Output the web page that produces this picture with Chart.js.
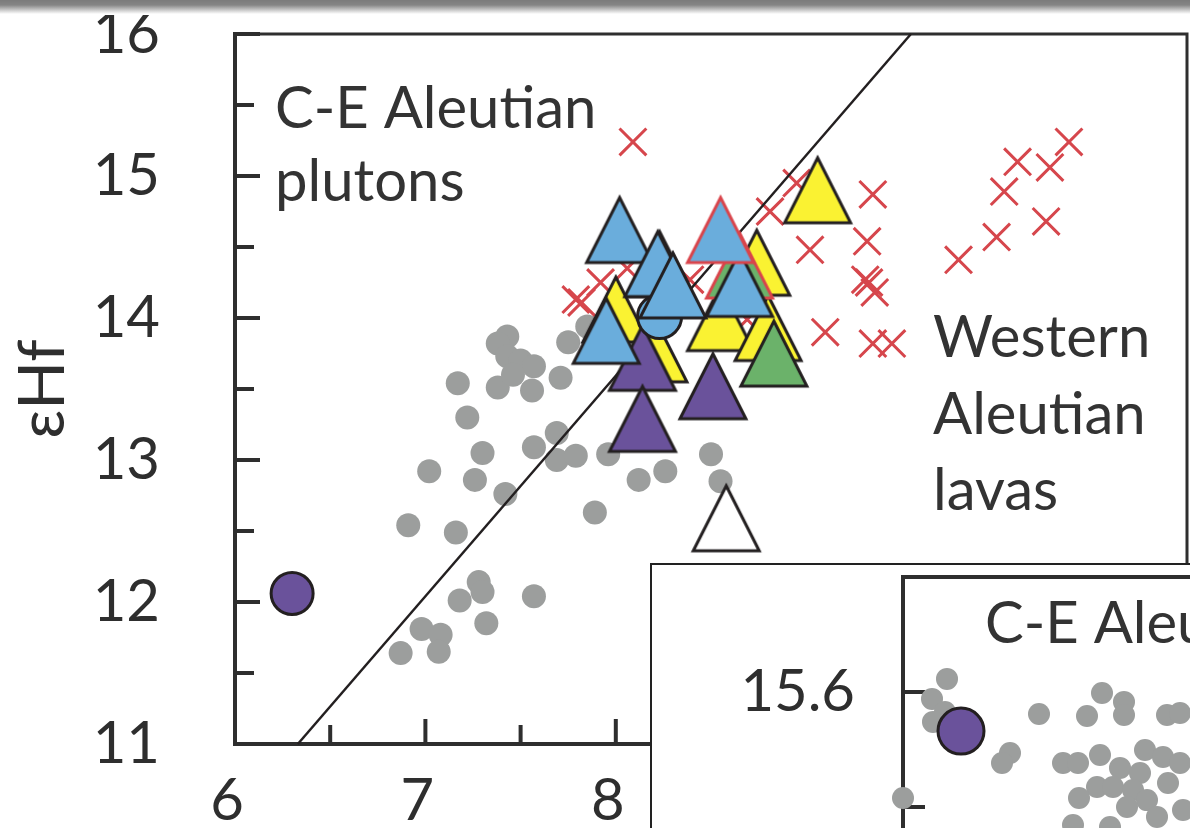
<!DOCTYPE html>
<html>
<head>
<meta charset="utf-8">
<script src="https://cdn.jsdelivr.net/npm/chart.js@4.4.1/dist/chart.umd.min.js"></script>
<style>
  html, body { margin: 0; padding: 0; background: #fff; overflow: hidden; }
  #wrap { position: relative; width: 1190px; height: 828px; overflow: hidden; }
  #topbar { position: absolute; left: 0; top: 0; width: 1190px; height: 15px; z-index: 3;
            background: linear-gradient(#7b7b7b 0px, #858585 5px, #ffffff 14px); }
  #main { position: absolute; left: 0; top: 0; }
  #insetBox { position: absolute; left: 650px; top: 563px; width: 700px; height: 480px;
              background: #fff; border: 2px solid #222; z-index: 2; }
  #inset { position: absolute; left: 0; top: 0; }
</style>
</head>
<body>
<div id="wrap">
  <div id="topbar"></div>
  <canvas id="main" width="1190" height="828"></canvas>
  <div id="insetBox"><canvas id="inset" width="700" height="480"></canvas></div>
</div>
<script>
// main panel: eNd (x) vs eHf (y)
const grayNd = [7.43,7.38,7.43,7.50,7.57,7.38,7.46,7.56,7.75,7.85,7.17,7.71,7.22,7.69,7.57,7.30,7.69,7.79,7.96,7.02,7.26,7.42,8.12,8.26,8.50,8.55,7.89,6.91,7.16,7.28,7.30,7.18,7.57,7.32,6.98,7.08,7.07,6.87];
const grayHf = [13.87,13.82,13.73,13.70,13.66,13.51,13.60,13.49,13.83,13.94,13.54,13.58,13.30,13.19,13.09,13.05,13.00,13.03,13.04,12.92,12.86,12.76,12.86,12.92,13.04,12.85,12.63,12.54,12.49,12.14,12.07,12.01,12.04,11.85,11.81,11.77,11.65,11.64];

const westNd = [8.09,7.79,7.82,7.92,8.06,8.39,8.69,8.81,8.95,9.02,9.10,9.35,9.32,9.31,9.33,9.36,9.35,9.45,9.80,10.00,10.04,10.11,10.28,10.38,10.26];
const westHf = [15.24,14.13,14.11,14.25,14.35,14.27,13.99,14.75,14.95,14.48,13.90,14.87,14.54,14.27,14.25,14.18,13.82,13.82,14.41,14.57,14.89,15.10,15.06,15.24,14.68];

const blueNd = [8.02,8.22,8.30,8.65,7.95];
const blueHf = [14.63,14.39,14.24,14.25,13.92];
const blueRedNd = [8.55];
const blueRedHf = [14.63];
const greenRedNd = [8.65];
const greenRedHf = [14.38];
const blueDotNd = [8.23];
const blueDotHf = [14.01];
const purpleNd = [8.14,8.14,8.51];
const purpleHf = [13.73,13.30,13.53];
const greenNd = [8.83];
const greenHf = [13.76];
const yellowNd = [9.06,8.74,8.23,8.00,8.55,8.80,8.20];
const yellowHf = [14.91,14.40,14.39,14.07,14.01,13.94,13.79];
const whiteNd = [8.58];
const whiteHf = [12.60];
const purpleDotNd = [6.30];
const purpleDotHf = [12.06];
const lineNd = [6.33, 9.55];
const lineHf = [11, 16];

// inset panel
const insetX = [18.144,18.129,18.142,18.130,18.236,18.207,18.199,18.284,18.299,18.321,18.321,18.364,18.377,18.260,18.275,18.297,18.317,18.342,18.337,18.360,18.377,18.365,18.294,18.310,18.330,18.344,18.276,18.324,18.354,18.380,18.270,18.307,18.100];
const insetY = [15.6057,15.5970,15.5913,15.5870,15.5904,15.5735,15.5691,15.5896,15.5996,15.5957,15.5900,15.5900,15.5909,15.5691,15.5691,15.5726,15.5670,15.5748,15.5648,15.5717,15.5691,15.5604,15.5587,15.5587,15.5574,15.5530,15.5539,15.5500,15.5457,15.5487,15.5422,15.5413,15.5539];
const insetPurpleX = [18.158];
const insetPurpleY = [15.583];

const FONT = 'Lato, "Open Sans", sans-serif';
const INK = '#2e2e2e';

function pts(xs, ys) { return xs.map((x, i) => ({x: x, y: ys[i]})); }

function makeTri(fill, stroke) {
  const c = document.createElement('canvas');
  c.width = 76; c.height = 80;
  const g = c.getContext('2d');
  g.beginPath();
  g.moveTo(38, 9); g.lineTo(71, 74); g.lineTo(5, 74); g.closePath();
  g.fillStyle = fill; g.fill();
  g.lineWidth = 3; g.lineJoin = 'miter'; g.strokeStyle = stroke; g.stroke();
  return c;
}

// tick marks pointing into the plot, plus the top/right frame
const inTicks = {
  id: 'inTicks',
  beforeDatasetsDraw(chart, args, opts) {
    const ctx = chart.ctx, a = chart.chartArea;
    ctx.save();
    ctx.strokeStyle = INK;
    ctx.lineWidth = 4;
    (opts.axes || []).forEach(ax => {
      const s = chart.scales[ax.id];
      s.ticks.forEach(t => {
        const r = t.value / ax.major;
        const len = Math.abs(r - Math.round(r)) < 1e-6 ? ax.long : ax.short;
        const p = s.getPixelForValue(t.value);
        ctx.beginPath();
        if (s.isHorizontal()) { ctx.moveTo(p, a.bottom); ctx.lineTo(p, a.bottom - len); }
        else { ctx.moveTo(a.left, p); ctx.lineTo(a.left + len, p); }
        ctx.stroke();
      });
    });
    if (opts.frame) {
      ctx.lineWidth = opts.frame;
      ctx.beginPath();
      ctx.moveTo(a.left, a.top); ctx.lineTo(a.right, a.top); ctx.lineTo(a.right, a.bottom);
      ctx.stroke();
    }
    ctx.restore();
  }
};

const notes = {
  id: 'notes',
  afterDraw(chart, args, opts) {
    const ctx = chart.ctx;
    ctx.save();
    ctx.font = '58px ' + FONT;
    ctx.fillStyle = '#333';
    ctx.textBaseline = 'alphabetic';
    (opts.items || []).forEach(it => ctx.fillText(it[0], it[1], it[2]));
    ctx.restore();
  }
};

// fixed axis boxes; drop the label overhang padding chart.js adds
function fixW(w) { return s => { s.width = w; s.paddingTop = 0; s.paddingBottom = 0; }; }
function fixH(h) { return s => { s.height = h; s.paddingLeft = 0; s.paddingRight = 0; }; }

const tickFont = {size: 58, family: FONT};

new Chart(document.getElementById('main'), {
  type: 'scatter',
  data: {
    datasets: [
      {data: pts(blueRedNd, blueRedHf), order: 0, pointStyle: makeTri('#6aaddc', '#d9444b')},
      {data: pts(blueNd, blueHf), order: 1, pointStyle: makeTri('#6aaddc', '#231f20')},
      {data: pts(greenRedNd, greenRedHf), order: 2, pointStyle: makeTri('#6bb26a', '#d9444b')},
      {data: pts(blueDotNd, blueDotHf), order: 3, pointStyle: 'circle', radius: 22,
       backgroundColor: '#6aaddc', borderColor: '#231f20', borderWidth: 3},
      {data: pts(purpleNd, purpleHf), order: 4, pointStyle: makeTri('#6a529b', '#231f20')},
      {data: pts(greenNd, greenHf), order: 5, pointStyle: makeTri('#6bb26a', '#231f20')},
      {data: pts(yellowNd, yellowHf), order: 6, pointStyle: makeTri('#faf232', '#231f20')},
      {data: pts(whiteNd, whiteHf), order: 7, pointStyle: makeTri('#ffffff', '#231f20')},
      {type: 'line', data: pts(lineNd, lineHf), order: 8, borderColor: '#231f20',
       borderWidth: 2.5, pointRadius: 0, fill: false},
      {data: pts(westNd, westHf), order: 9, pointStyle: 'crossRot', radius: 19,
       borderColor: '#d6464c', borderWidth: 3},
      {data: pts(grayNd, grayHf), order: 10, pointStyle: 'circle', radius: 12,
       backgroundColor: '#9c9e9d', borderWidth: 0},
      {data: pts(purpleDotNd, purpleDotHf), order: 11, pointStyle: 'circle', radius: 21,
       backgroundColor: '#6a529b', borderColor: '#231f20', borderWidth: 3}
    ].map(d => Object.assign({clip: false}, d))
  },
  options: {
    responsive: false,
    animation: false,
    events: [],
    devicePixelRatio: 1,
    layout: {autoPadding: false, padding: {top: 34, right: 3, left: 0, bottom: 0}},
    plugins: {
      legend: {display: false},
      tooltip: {enabled: false},
      inTicks: {axes: [{id: 'x', major: 1, long: 25, short: 19}, {id: 'y', major: 1, long: 25, short: 19}], frame: 3},
      notes: {items: [['C-E Aleutian', 275, 128], ['plutons', 275, 201],
                      ['Western', 933, 357], ['Aleutian', 933, 434], ['lavas', 933, 510]]}
    },
    scales: {
      x: {
        type: 'linear', min: 6, max: 11,
        afterFit: fixH(84),
        grid: {display: false, drawTicks: false},
        border: {display: true, width: 4, color: INK},
        ticks: {stepSize: 0.5, padding: 22, labelOffset: -8, color: INK, font: tickFont,
                maxRotation: 0, autoSkip: false,
                callback: v => (Number.isInteger(v) && v <= 8) ? v : ''}
      },
      y: {
        type: 'linear', min: 11, max: 16,
        afterFit: fixW(235),
        grid: {display: false, drawTicks: false},
        border: {display: true, width: 4, color: INK},
        ticks: {stepSize: 0.5, padding: 75, color: INK, font: tickFont, autoSkip: false,
                callback: v => Number.isInteger(v) ? v : ''},
        title: {display: true, text: 'εHf', color: INK, font: {size: 64, family: FONT},
                padding: {top: 5, bottom: 0}}
      }
    }
  },
  plugins: [inTicks, notes]
});

new Chart(document.getElementById('inset'), {
  type: 'scatter',
  data: {
    datasets: [
      {data: pts(insetPurpleX, insetPurpleY), order: 0, pointStyle: 'circle', radius: 23,
       backgroundColor: '#6a529b', borderColor: '#231f20', borderWidth: 3},
      {data: pts(insetX, insetY), order: 1, pointStyle: 'circle', radius: 11,
       backgroundColor: '#9c9e9d', borderWidth: 0}
    ].map(d => Object.assign({clip: false}, d))
  },
  options: {
    responsive: false,
    animation: false,
    events: [],
    devicePixelRatio: 1,
    layout: {autoPadding: false, padding: {top: 12, right: 0, left: 0, bottom: 8}},
    plugins: {
      legend: {display: false},
      tooltip: {enabled: false},
      inTicks: {axes: [{id: 'y', major: 0.05, long: 22, short: 22}], frame: 4},
      notes: {items: [['C-E Aleutian', 333, 78]]}
    },
    scales: {
      x: {type: 'linear', min: 18.1, max: 18.549, display: false},
      y: {
        type: 'linear', min: 15.45, max: 15.65,
        afterFit: fixW(251),
        grid: {display: false, drawTicks: false},
        border: {display: true, width: 4, color: INK},
        ticks: {stepSize: 0.05, padding: 48, color: INK, font: tickFont, autoSkip: false,
                callback: v => Math.abs(v * 10 - Math.round(v * 10)) < 1e-6 ? v.toFixed(1) : ''}
      }
    }
  },
  plugins: [inTicks, notes]
});
</script>
</body>
</html>
